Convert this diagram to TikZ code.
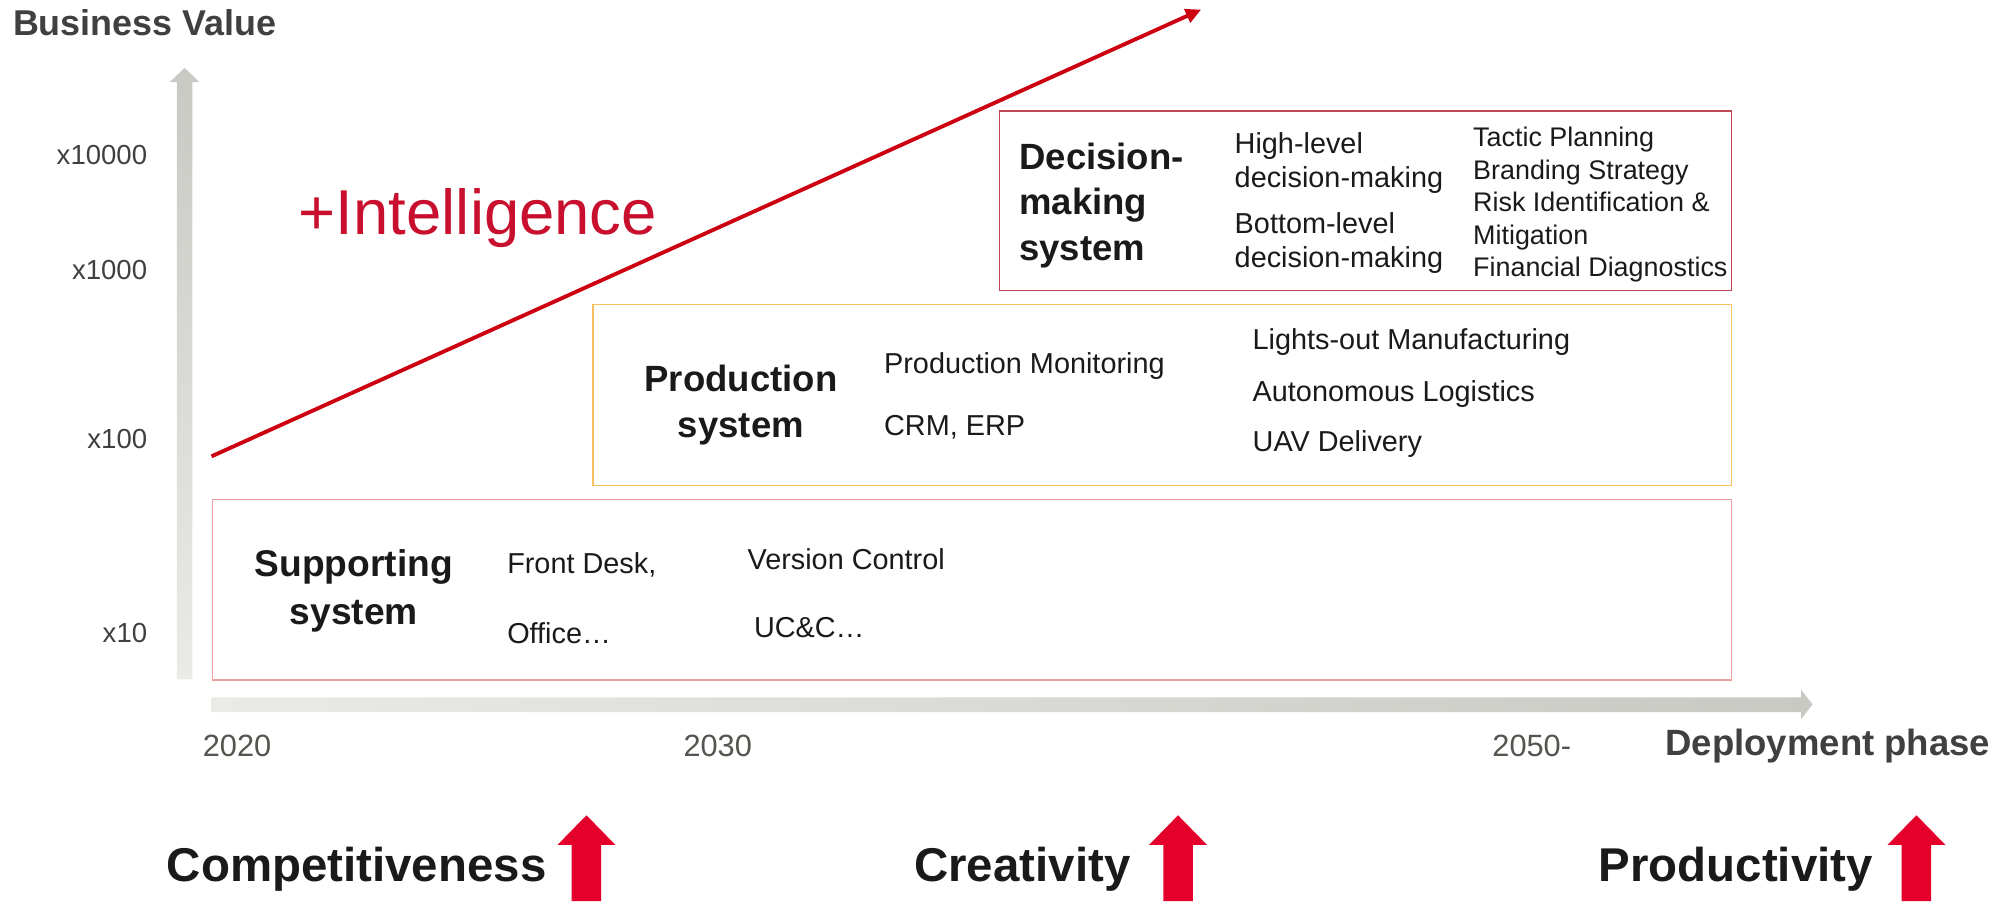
\documentclass[tikz,border=0pt]{standalone}
\usepackage{fontspec}
\setmainfont{Liberation Sans}
\usepackage{xcolor}
\usetikzlibrary{arrows.meta}

\definecolor{axisdark}{RGB}{200,201,195}
\definecolor{axislight}{RGB}{234,234,231}
\definecolor{axistext}{RGB}{64,64,64}
\definecolor{yeartext}{RGB}{85,85,80}
\definecolor{trendred}{RGB}{204,0,17}
\definecolor{intred}{RGB}{200,16,46}
\definecolor{boostred}{RGB}{228,0,43}
\definecolor{decline}{RGB}{192,72,82}
\definecolor{prodline}{RGB}{249,192,96}
\definecolor{suppline}{RGB}{238,160,155}
\definecolor{ink}{RGB}{26,26,26}

\begin{document}
\begin{tikzpicture}[x=1pt, y=-1pt,
    sysbox/.style={rectangle, draw, line width=1.2pt, anchor=north west, inner sep=0pt},
    heading/.style={inner sep=0pt, text=ink, font=\bfseries\fontsize{28.5}{35.5}\selectfont},
    item/.style={inner sep=0pt, anchor=base west, text=ink, font=\fontsize{22.5}{26.5}\selectfont},
    tick/.style={inner sep=0pt, anchor=base east, text=axistext, font=\fontsize{21.5}{26}\selectfont},
    year/.style={inner sep=0pt, anchor=base west, text=yeartext, font=\fontsize{24}{28}\selectfont},
    goal/.style={inner sep=0pt, anchor=base west, text=ink, font=\bfseries\fontsize{37}{44}\selectfont},
    trend/.style={-{Triangle[length=12pt,width=11pt]}, line width=3pt, trendred},
    boost/.style={fill=boostred}
]
    \useasboundingbox (0,0) rectangle (1568,703);

    % Axes
    \shade[top color=axisdark, bottom color=axislight] (138,530) -- (138,64) -- (132.5,64) -- (144,53) -- (155.5,64) -- (150,64) -- (150,530) -- cycle;
    \shade[left color=axislight, right color=axisdark] (165,544) -- (1405,544) -- (1405,538) -- (1414,549.5) -- (1405,561) -- (1405,555.5) -- (165,555.5) -- cycle;
    \node[inner sep=0pt, anchor=base west, text=axistext, font=\bfseries\fontsize{28}{34}\selectfont] (yname) at (10,27.5) {Business Value};
    \node[inner sep=0pt, anchor=base west, text=axistext, font=\bfseries\fontsize{28.5}{34}\selectfont] (xname) at (1299,589) {Deployment phase};
    \node[tick] (t4) at (115,128) {x10000};
    \node[tick] (t3) at (115,218) {x1000};
    \node[tick] (t2) at (115,350) {x100};
    \node[tick] (t1) at (115,501) {x10};
    \node[year] (y2020) at (158,590) {2020};
    \node[year] (y2030) at (533,590) {2030};
    \node[year] (y2050) at (1164,590) {2050-};

    % Systems
    \node[sysbox, draw=decline, minimum width=571pt, minimum height=140pt] (decision) at (779,86) {};
    \node[sysbox, draw=prodline, minimum width=888pt, minimum height=141pt] (production) at (462,237) {};
    \node[sysbox, draw=suppline, minimum width=1185pt, minimum height=141pt] (supporting) at (165,389) {};

    \node[heading, align=left, anchor=base west] (dectitle) at (795,203) {Decision-\\making\\system};
    \node[item] (highlvl) at (963,119.5) {High-level};
    \node[item] (highdec) at (963,146) {decision-making};
    \node[item] (botlvl) at (963,182) {Bottom-level};
    \node[item] (botdec) at (963,209) {decision-making};
    \node[item, align=left, font=\fontsize{21}{25.4}\selectfont] (declist) at (1149,216) {Tactic Planning\\Branding Strategy\\Risk Identification \&\\Mitigation\\Financial Diagnostics};

    \node[heading, align=center, anchor=base] (prodtitle) at (578,341) {Production\\system};
    \node[item] (monitor) at (689.5,291) {Production Monitoring};
    \node[item] (crm) at (689.5,339.5) {CRM, ERP};
    \node[item] (lights) at (977,273) {Lights-out Manufacturing};
    \node[item] (logist) at (977,313.5) {Autonomous Logistics};
    \node[item] (uav) at (977,352.5) {UAV Delivery};

    \node[heading, align=center, anchor=base, font=\bfseries\fontsize{29}{37.5}\selectfont] (supptitle) at (276,487.5) {Supporting\\system};
    \node[item] (front) at (395.5,447) {Front Desk,};
    \node[item] (office) at (395.5,502) {Office…};
    \node[item] (version) at (583,444.5) {Version Control};
    \node[item] (ucc) at (588,497) {UC\&C…};

    % Trend
    \coordinate (trendstart) at (165,356);
    \coordinate (trendend) at (937,7.5);
    \draw[trend] (trendstart) -- (trendend);
    \node[inner sep=0pt, anchor=base west, text=intred, font=\fontsize{49.5}{56}\selectfont] (intel) at (233,183) {+Intelligence};

    % Goals
    \node[goal] (compet) at (130,688) {Competitiveness};
    \node[goal] (creat) at (713,688) {Creativity};
    \node[goal] (product) at (1247,688) {Productivity};
    \foreach \cx in {457.5, 919, 1495}
        \fill[boost] (\cx-11.5,703) -- (\cx-11.5,659) -- (\cx-22.5,659) -- (\cx,636) -- (\cx+22.5,659) -- (\cx+11.5,659) -- (\cx+11.5,703) -- cycle;
\end{tikzpicture}
\end{document}
